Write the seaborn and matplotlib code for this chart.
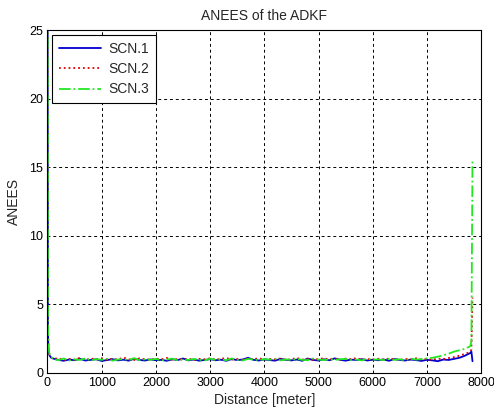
import matplotlib
matplotlib.use("Agg")
import matplotlib.pyplot as plt
import pandas as pd
import seaborn as sns

# distance samples [meter]
distance = [0, 10, 20, 40, 70] + list(range(100, 7800, 100)) + [7750, 7800, 7820, 7840]

scn1 = [40.0, 3.0, 1.5, 1.25, 1.1,
        1.05, 0.95, 0.88, 0.97, 0.92, 1.02, 0.90, 0.95, 0.99, 0.87,
        0.93, 1.00, 0.91, 0.96, 0.89, 1.03, 0.94, 0.90, 0.98, 0.92,
        0.95, 0.88, 0.99, 0.93, 1.05, 0.91, 0.97, 0.89, 0.94, 1.00,
        0.92, 0.96, 0.88, 1.01, 0.93, 0.97, 1.10, 0.95, 0.90, 0.98,
        0.93, 0.89, 1.02, 0.95, 0.91, 0.97, 0.88, 1.04, 0.94, 0.90,
        0.99, 0.92, 1.06, 0.95, 0.89, 0.97, 0.93, 1.00, 0.90, 0.96,
        0.92, 0.98, 0.88, 1.01, 0.94, 0.90, 0.97, 0.93, 0.87, 0.95,
        0.91, 0.85, 0.97, 0.94, 1.02, 1.10, 1.25,
        1.35, 1.45, 1.55, 0.85]

scn2 = [40.0, 3.2, 1.6, 1.3, 1.15,
        1.00, 1.08, 0.93, 1.02, 0.96, 1.10, 0.94, 1.05, 0.98, 1.07,
        0.95, 1.03, 0.97, 1.12, 0.99, 0.94, 1.06, 1.00, 0.96, 1.04,
        0.98, 1.09, 0.95, 1.01, 0.97, 1.05, 0.93, 1.02, 0.99, 1.06,
        0.96, 1.03, 1.08, 0.97, 1.01, 0.95, 1.04, 0.99, 1.07, 0.96,
        1.02, 0.98, 1.05, 0.94, 1.00, 1.09, 0.97, 1.03, 0.95, 1.01,
        1.06, 0.98, 1.02, 0.96, 1.04, 0.99, 1.08, 0.95, 1.01, 0.97,
        1.03, 0.96, 1.05, 0.99, 0.94, 1.02, 0.98, 1.06, 0.97, 1.00,
        0.96, 1.04, 1.00, 1.08, 1.15, 1.25, 1.38,
        1.45, 1.55, 1.7, 5.5]

scn3 = [40.0, 3.4, 1.8, 1.35, 1.2,
        1.02, 0.92, 1.05, 0.90, 0.98, 0.94, 1.06, 0.91, 1.00, 0.95,
        1.03, 0.89, 0.97, 1.01, 0.93, 1.07, 0.92, 0.99, 0.95, 1.02,
        0.90, 0.97, 1.04, 0.92, 0.98, 0.94, 1.01, 0.96, 0.91, 1.03,
        0.95, 0.99, 0.92, 1.05, 0.94, 0.90, 1.02, 0.97, 0.93, 1.00,
        0.96, 1.03, 0.91, 0.98, 0.94, 1.01, 0.95, 0.92, 1.04, 0.97,
        0.93, 1.00, 0.95, 0.99, 1.02, 0.94, 0.97, 0.91, 1.03, 0.96,
        0.98, 0.93, 1.01, 0.95, 0.99, 0.92, 1.04, 0.97, 1.00, 1.06,
        1.10, 1.18, 1.28, 1.40, 1.55, 1.65, 1.75,
        1.85, 1.95, 2.3, 15.5]

labels = ["SCN.1", "SCN.2", "SCN.3"]
colors = ["#0000d0", "#e00000", "#22e822"]
styles = ["-", ":", "-."]

sns.set_style("white")
plt.rcParams["font.family"] = ["Liberation Sans", "DejaVu Sans"]
plt.rcParams["font.size"] = 10

fig = plt.figure(figsize=(4.94, 4.12), dpi=100)
ax = fig.add_axes([0.096, 0.095, 0.878, 0.832])

for vals, lab, col, ls in zip([scn1, scn2, scn3], labels, colors, styles):
    df = pd.DataFrame({"Distance": distance, "ANEES": vals})
    sns.lineplot(data=df, x="Distance", y="ANEES", ax=ax, color=col,
                 linestyle=ls, linewidth=1.3, label=lab, sort=False)

ax.set_xlim(0, 8000)
ax.set_ylim(0, 25)
ax.set_xticks(range(0, 8001, 1000))
ax.set_yticks(range(0, 26, 5))
ax.grid(True, color="black", linestyle=(0, (3, 3)), linewidth=0.7)
ax.tick_params(direction="in", length=4, labelsize=9, colors="black", pad=3)
for s in ax.spines.values():
    s.set_color("black")
    s.set_linewidth(0.8)

ax.set_title("ANEES of the ADKF", fontsize=10, pad=7)
ax.set_xlabel("Distance [meter]", fontsize=10, labelpad=3)
ax.set_ylabel("ANEES", fontsize=10, labelpad=6)

leg = ax.legend(loc="upper left", fancybox=False, framealpha=1, edgecolor="black",
                handlelength=3.0, fontsize=10, borderaxespad=0.35, labelspacing=0.45,
                handletextpad=0.5, borderpad=0.5)
leg.get_frame().set_linewidth(0.8)

fig.savefig("out.png", dpi=100)
